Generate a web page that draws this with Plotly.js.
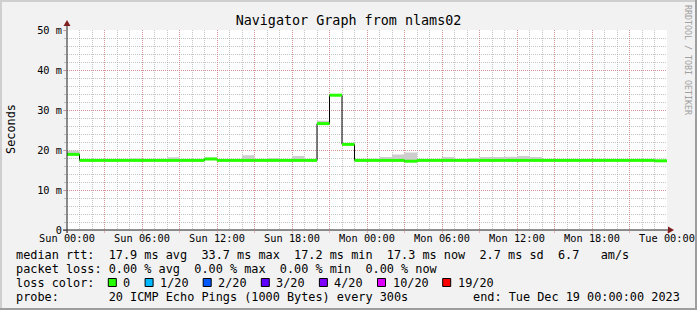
<!DOCTYPE html>
<html><head><meta charset="utf-8">
<script src="https://cdn.plot.ly/plotly-3.0.1.min.js"></script>
<style>html,body{margin:0;padding:0;background:#f2f2f2;}#chart{width:697px;height:310px;}</style>
</head><body><div id="chart"></div>
<script>
// ---- data ----
const startTime = Date.UTC(2023, 11, 17, 0, 0, 0);   // Sun Dec 17 2023 00:00
const stepHours = 1;
const medianRtt = [18.9, 17.4, 17.4, 17.4, 17.4, 17.4, 17.4, 17.4, 17.4, 17.4, 17.4, 17.75,
                   17.4, 17.4, 17.4, 17.4, 17.4, 17.4, 17.4, 17.4, 26.6, 33.7, 21.4, 17.4,
                   17.4, 17.4, 17.4, 17.2, 17.4, 17.4, 17.4, 17.4, 17.4, 17.4, 17.4, 17.4,
                   17.4, 17.4, 17.4, 17.4, 17.4, 17.4, 17.4, 17.4, 17.4, 17.4, 17.4, 17.3];
const smokeTop  = [19.9, 17.6, 17.6, 17.6, 17.6, 17.9, 17.6, 17.6, 18.2, 17.6, 17.6, 18.1,
                   17.6, 17.6, 18.7, 17.6, 17.95, 17.6, 18.5, 17.6, 27.3, 33.9, 21.6, 17.6,
                   17.8, 18.25, 18.85, 19.4, 17.6, 17.6, 18.25, 17.6, 18.0, 18.25, 18.25, 18.3,
                   18.5, 18.25, 17.6, 17.6, 17.6, 17.6, 17.6, 17.6, 17.6, 17.6, 17.6, 17.5];
const xTickLabels = ['Sun 00:00','Sun 06:00','Sun 12:00','Sun 18:00','Mon 00:00',
                     'Mon 06:00','Mon 12:00','Mon 18:00','Tue 00:00'];
const yTickVals = [0, 10, 20, 30, 40, 50];
const yTickLabels = ['0', '10 m', '20 m', '30 m', '40 m', '50 m'];
const rttStats = ['17.9', '33.7', '17.2', '17.3', '2.7', '6.7'];
const lossStats = ['0.00', '0.00', '0.00', '0.00'];
const lossLabels = ['0', '1/20', '2/20', '3/20', '4/20', '10/20', '19/20'];
const lossColors = ['#26ff00', '#00b8ff', '#0059ff', '#5e00ff', '#7e00ff', '#dd00ff', '#ff0000'];
const titleText = 'Navigator Graph from nlams02';
const probeText = '20 ICMP Echo Pings (1000 Bytes) every 300s';
const endText = 'end: Tue Dec 19 00:00:00 2023';

// ---- helpers ----
function t(i) { return new Date(startTime + i * stepHours * 3600000).toISOString().slice(0, 19).replace('T', ' '); }
const nb = s => s.replace(/ /g, '\u00a0');
const n = medianRtt.length;
const xs = [], medStep = [], topStep = [];
for (let i = 0; i <= n; i++) { xs.push(t(i)); medStep.push(medianRtt[Math.min(i, n - 1)]); topStep.push(smokeTop[Math.min(i, n - 1)]); }
const gx = [], gy = [];
for (let i = 0; i < n; i++) { gx.push(t(i), t(i + 1), null); gy.push(medianRtt[i], medianRtt[i], null); }

const W = 697, H = 310, ML = 67, MR = 30, MT = 30, MB = 80;
const PW = W - ML - MR, PH = H - MT - MB;
const px = x => (x - ML) / PW;          // pixel -> paper x
const py = y => (H - MB - y) / PH;      // pixel -> paper y
const MONO = 'DejaVu Sans Mono';

const traces = [
  { x: xs, y: medStep, type: 'scatter', mode: 'lines', line: { shape: 'hv', width: 0, color: 'rgba(0,0,0,0)' }, hoverinfo: 'skip', showlegend: false },
  { x: xs, y: topStep, type: 'scatter', mode: 'lines', fill: 'tonexty', fillcolor: '#cdcdcd', line: { shape: 'hv', width: 0, color: 'rgba(0,0,0,0)' }, hoverinfo: 'skip', showlegend: false },
  { x: xs, y: medStep, type: 'scatter', mode: 'lines', line: { shape: 'hv', width: 1, color: '#000' }, showlegend: false },
  { x: gx, y: gy, type: 'scatter', mode: 'lines', connectgaps: false, line: { width: 3, color: lossColors[0] }, showlegend: false }
];

// x ticks every 3h, labelled every 6h
const tickvals = [], ticktext = [];
for (let h = 0; h <= n; h += 3) { tickvals.push(t(h)); ticktext.push(h % 6 === 0 ? xTickLabels[h / 6] : ''); }

const MGRID = 'rgba(230,90,90,0.45)', GRID = 'rgba(150,150,150,0.55)';
const shapes = [
  // frame shading
  { type: 'line', xref: 'paper', yref: 'paper', x0: px(0), x1: px(W), y0: py(1), y1: py(1), line: { color: '#cfcfcf', width: 2 } },
  { type: 'line', xref: 'paper', yref: 'paper', x0: px(1), x1: px(1), y0: py(0), y1: py(H), line: { color: '#cfcfcf', width: 2 } },
  { type: 'line', xref: 'paper', yref: 'paper', x0: px(0), x1: px(W), y0: py(H - 1), y1: py(H - 1), line: { color: '#9e9e9e', width: 2 } },
  { type: 'line', xref: 'paper', yref: 'paper', x0: px(W - 1), x1: px(W - 1), y0: py(0), y1: py(H), line: { color: '#9e9e9e', width: 2 } },
  // axes
  { type: 'line', xref: 'paper', yref: 'paper', x0: px(63), x1: px(669), y0: 0, y1: 0, line: { color: '#1f1f1f', width: 1 } },
  { type: 'line', xref: 'paper', yref: 'paper', x0: 0, x1: 0, y0: py(233), y1: py(25), line: { color: '#1f1f1f', width: 1 } },
  { type: 'path', xref: 'paper', yref: 'paper', path: `M ${px(668)},${py(226.5)} L ${px(674)},${py(230)} L ${px(668)},${py(233.5)} Z`, fillcolor: '#801f1f', line: { width: 0 } },
  { type: 'path', xref: 'paper', yref: 'paper', path: `M ${px(63.5)},${py(26)} L ${px(67)},${py(20)} L ${px(70.5)},${py(26)} Z`, fillcolor: '#801f1f', line: { width: 0 } }
];

const annotations = [];
const legendFont = { family: MONO, size: 11.85, color: '#000' };
function addText(text, x, y, anchor, extra) {
  annotations.push(Object.assign({ text: nb(text), xref: 'paper', yref: 'paper', x: px(x), y: py(y), xanchor: anchor || 'left', yanchor: 'middle', showarrow: false, font: legendFont, borderpad: 0 }, extra || {}));
}
addText('median rtt:  ' + rttStats[0] + ' ms avg  ' + rttStats[1] + ' ms max  ' + rttStats[2] + ' ms min  ' + rttStats[3] + ' ms now  ' + rttStats[4] + ' ms sd  ' + rttStats[5] + '   am/s', 15, 254.5);
addText('packet loss: ' + lossStats[0] + ' % avg  ' + lossStats[1] + ' % max  ' + lossStats[2] + ' % min  ' + lossStats[3] + ' % now', 15, 268.5);
addText('loss color:', 15, 282.5);
addText('probe:       ' + probeText, 15, 296.5);
addText(endText, 681, 296.5, 'right');
let left = 108.3;
const charW = 7.1;
lossLabels.forEach((lab, k) => {
  shapes.push({ type: 'rect', xref: 'paper', yref: 'paper', x0: px(left), x1: px(left + 8), y0: py(286.5), y1: py(278.5), fillcolor: lossColors[k], line: { color: '#000', width: 1 } });
  addText(lab, left + 14, 282.5);
  left += 14.5 + lab.length * charW + 15.2;
});
addText('Seconds', 11, 129, 'center', { textangle: -90, xanchor: 'center' });
addText('RRDTOOL / TOBI OETIKER', 688, 60, 'center', { textangle: 90, xanchor: 'center', font: { family: MONO, size: 8.3, color: '#a0a0a0' } });

const layout = {
  width: W, height: H,
  margin: { l: ML, r: MR, t: MT, b: MB, pad: 0 },
  paper_bgcolor: '#f2f2f2', plot_bgcolor: '#ffffff',
  showlegend: false,
  title: { text: titleText, font: { family: MONO, size: 13.4, color: '#000' }, x: 0.5, xref: 'container', xanchor: 'center', y: 1 - 20 / H, yref: 'container', yanchor: 'middle' },
  xaxis: {
    type: 'date', range: [t(0), t(n)], tickmode: 'array', tickvals: tickvals, ticktext: ticktext,
    showgrid: true, gridcolor: MGRID, griddash: '1px,1px', gridwidth: 1,
    ticks: 'outside', ticklen: 2, tickcolor: MGRID, ticklabelstandoff: -3,
    minor: { dtick: 3600000, tick0: t(0), showgrid: true, gridcolor: GRID, griddash: '1px,1px', gridwidth: 1, ticks: '' },
    zeroline: false, showline: false, fixedrange: true,
    tickfont: { family: MONO, size: 10.3, color: '#000' }
  },
  yaxis: {
    range: [0, 50], tickmode: 'array', tickvals: yTickVals, ticktext: yTickLabels,
    showgrid: true, gridcolor: MGRID, griddash: '1px,1px', gridwidth: 1,
    ticks: 'outside', ticklen: 3, tickcolor: MGRID, ticklabelstandoff: -1,
    minor: { dtick: 2, showgrid: true, gridcolor: GRID, griddash: '1px,1px', gridwidth: 1, ticks: 'outside', ticklen: 2, tickcolor: GRID },
    zeroline: false, showline: false, fixedrange: true,
    tickfont: { family: MONO, size: 10.3, color: '#000' }
  },
  shapes: shapes,
  annotations: annotations
};
Plotly.newPlot('chart', traces, layout, { staticPlot: true, displayModeBar: false });
</script>
</body></html>
